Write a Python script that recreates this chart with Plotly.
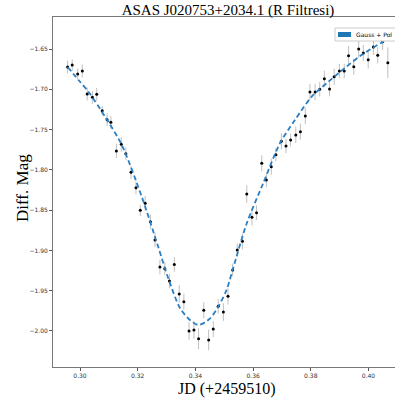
import plotly.graph_objects as go

# Observations (JD - 2459510, differential magnitude, error)
jd = [0.2957, 0.2973, 0.2992, 0.3008, 0.3025, 0.3043, 0.3058, 0.3077, 0.3094, 0.3107,
      0.3126, 0.3143, 0.3159, 0.3177, 0.3194, 0.3209, 0.3226, 0.3244, 0.3260, 0.3277,
      0.3294, 0.3310, 0.3327, 0.3344, 0.3360, 0.3378, 0.3395, 0.3411, 0.3429, 0.3446,
      0.3462, 0.3479, 0.3497, 0.3513, 0.3529, 0.3545, 0.3563, 0.3578, 0.3596, 0.3612,
      0.3630, 0.3646, 0.3663, 0.3679, 0.3698, 0.3714, 0.3730, 0.3748, 0.3764, 0.3781,
      0.3797, 0.3815, 0.3831, 0.3847, 0.3865, 0.3881, 0.3899, 0.3916, 0.3931, 0.3949,
      0.3966, 0.3982, 0.3999, 0.4017, 0.4032, 0.4049, 0.4067]
mag = [-1.6723, -1.6699, -1.6810, -1.6773, -1.7059, -1.7100, -1.7062, -1.7266, -1.7378, -1.7410,
       -1.7766, -1.7683, -1.7800, -1.8030, -1.8222, -1.8502, -1.8415, -1.8644, -1.8871, -1.9206,
       -1.9227, -1.9380, -1.9175, -1.9541, -1.9637, -2.0000, -1.9988, -2.0096, -1.9743, -2.0112,
       -1.9975, -1.9694, -1.9764, -1.9570, -1.9243, -1.8995, -1.8887, -1.8300, -1.8589, -1.8532,
       -1.7919, -1.8126, -1.7961, -1.7812, -1.7646, -1.7704, -1.7630, -1.7567, -1.7527, -1.7332,
       -1.7034, -1.7034, -1.7000, -1.6869, -1.6997, -1.6844, -1.6773, -1.6773, -1.6583, -1.6720,
       -1.6500, -1.6550, -1.6633, -1.6475, -1.6578, -1.6409, -1.6670]
err = [0.008, 0.007, 0.007, 0.008, 0.008, 0.008, 0.008, 0.006, 0.008, 0.008,
       0.009, 0.009, 0.008, 0.008, 0.008, 0.007, 0.009, 0.009, 0.009, 0.009,
       0.008, 0.009, 0.009, 0.011, 0.010, 0.011, 0.011, 0.013, 0.010, 0.013,
       0.010, 0.009, 0.011, 0.010, 0.008, 0.008, 0.010, 0.011, 0.010, 0.009,
       0.010, 0.009, 0.010, 0.008, 0.010, 0.009, 0.008, 0.010, 0.010, 0.010,
       0.010, 0.010, 0.009, 0.010, 0.009, 0.010, 0.009, 0.009, 0.012, 0.010,
       0.011, 0.010, 0.011, 0.010, 0.010, 0.010, 0.019]

# Fitted model (Gauss + polynomial)
fit_jd = [0.2957, 0.3000, 0.3029, 0.3087, 0.3145, 0.3214, 0.3271, 0.3306, 0.3347, 0.3381,
          0.3411, 0.3451, 0.3479, 0.3508, 0.3531, 0.3578, 0.3635, 0.3693, 0.3745, 0.3803,
          0.3861, 0.3918, 0.3976, 0.4051, 0.4067]
fit_mag = [-1.6723, -1.6907, -1.7030, -1.7340, -1.7692, -1.8333, -1.8954, -1.9346, -1.9718, -1.9864,
           -1.9926, -1.9843, -1.9699, -1.9491, -1.9218, -1.8663, -1.8167, -1.7670, -1.7381, -1.7092,
           -1.6906, -1.6736, -1.6574, -1.6409, -1.6382]

x_ticks = [0.30, 0.32, 0.34, 0.36, 0.38, 0.40]
x_labels = ["0.30", "0.32", "0.34", "0.36", "0.38", "0.40"]
y_ticks = [-1.65, -1.70, -1.75, -1.80, -1.85, -1.90, -1.95, -2.00]
y_labels = ["\u22121.65", "\u22121.70", "\u22121.75", "\u22121.80", "\u22121.85",
            "\u22121.90", "\u22121.95", "\u22122.00"]
legend_label = "Gauss + Pol"
x_title = "JD (+2459510)"
y_title = "Diff. Mag"

W, H = 395, 398
ML, MR, MT, MB = 53, 0, 17, 31
PW, PH = W - ML - MR, H - MT - MB


def px(xp):
    return (xp - ML) / PW


def py(yp):
    return (H - MB - yp) / PH


fig = go.Figure()
fig.add_trace(go.Scatter(
    x=jd, y=mag, mode="markers",
    marker=dict(color="black", size=3),
    error_y=dict(type="data", array=err, color="rgba(140,140,140,0.55)", thickness=1, width=0),
    showlegend=False,
))
fig.add_trace(go.Scatter(
    x=fit_jd, y=fit_mag, mode="lines",
    line=dict(color="#2a7fc4", width=1.8, dash="5px,3px", shape="spline", smoothing=0.8),
    showlegend=False,
))

axis_common = dict(
    showgrid=False, zeroline=False, showline=True, linecolor="#777", linewidth=1,
    ticks="outside", ticklen=3, tickcolor="#555", tickwidth=1,
    tickfont=dict(family="DejaVu Sans", size=6, color="#333"),
)

# Legend box drawn as shapes + text (partly cut at the right edge as in the original)
fig.add_shape(type="rect", xref="paper", yref="paper",
              x0=px(335), x1=px(400), y0=py(41), y1=py(28),
              line=dict(color="#cccccc", width=1), fillcolor="white", layer="above")
fig.add_shape(type="rect", xref="paper", yref="paper",
              x0=px(338), x1=px(351), y0=py(37), y1=py(32),
              line=dict(width=0), fillcolor="#1f77b4", layer="above")
fig.add_annotation(text=legend_label, xref="paper", yref="paper",
                   x=px(354), y=py(34.5), xanchor="left", yanchor="middle",
                   showarrow=False, font=dict(family="DejaVu Sans", size=6, color="black"))

# Axis titles
fig.add_annotation(text=y_title, xref="paper", yref="paper",
                   x=px(22), y=py(188), xanchor="center", yanchor="middle", textangle=-90,
                   showarrow=False, font=dict(family="Liberation Serif", size=17, color="black"))
fig.add_annotation(text=x_title, xref="paper", yref="paper",
                   x=px(226), y=py(389), xanchor="center", yanchor="middle",
                   showarrow=False, font=dict(family="Liberation Serif", size=16, color="black"))

fig.update_layout(
    width=W, height=H,
    margin=dict(l=ML, r=MR, t=MT, b=MB),
    paper_bgcolor="white", plot_bgcolor="white",
    showlegend=False,
    title=dict(text="ASAS J020753+2034.1 (R Filtresi)", x=228 / W, xanchor="center",
               xref="container", y=1 - 10 / H, yanchor="middle", yref="container",
               font=dict(family="Liberation Serif", size=15, color="black")),
    xaxis=dict(range=[0.29064, 0.40919], tickvals=x_ticks, ticktext=x_labels,
               mirror=True, **axis_common),
    yaxis=dict(range=[-2.04469, -1.61028], tickvals=y_ticks, ticktext=y_labels,
               mirror=False, **axis_common),
)

fig.write_html("out.html")
